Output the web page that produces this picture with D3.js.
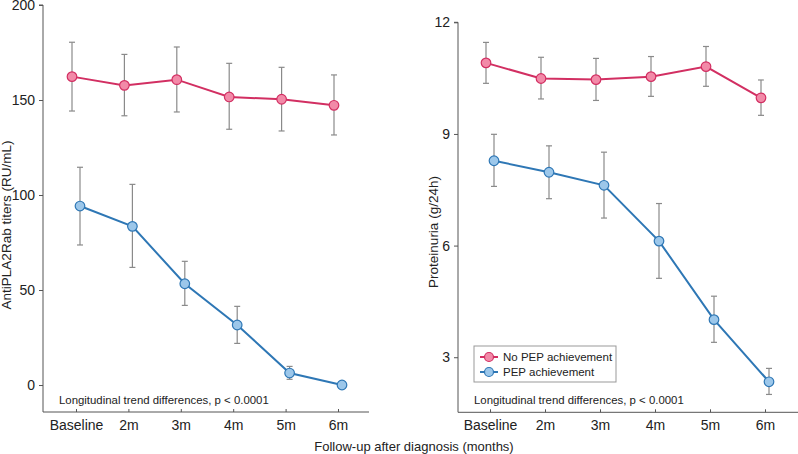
<!DOCTYPE html>
<html><head><meta charset="utf-8">
<script src="https://cdn.jsdelivr.net/npm/d3@7"></script>
<style>body{margin:0;background:#fff;} text{font-family:Arial,"Liberation Sans",sans-serif;}</style>
</head><body>
<svg id="chart" width="798" height="454"></svg>
<script>
const categories = ["Baseline","2m","3m","4m","5m","6m"];
const seriesNames = ["No PEP achievement","PEP achievement"];
// Left panel: AntiPLA2Rab titers
const titerNoPEP = [162.3,157.7,160.7,151.6,150.4,147.2];
const titerNoPEPHi = [180.4,174.0,177.9,169.3,167.2,163.2];
const titerNoPEPLo = [144.2,141.7,143.7,134.6,133.7,131.6];
const titerPEP = [94.2,83.5,53.3,31.6,6.3,0];
const titerPEPHi = [114.6,105.6,65.1,41.4,9.8,null];
const titerPEPLo = [73.7,61.9,41.9,21.9,3.0,null];
const titerTicks = [0,50,100,150,200];
// Right panel: Proteinuria
const protNoPEP = [10.91,10.49,10.46,10.54,10.81,9.97];
const protNoPEPHi = [11.46,11.06,11.03,11.08,11.35,10.45];
const protNoPEPLo = [10.36,9.94,9.90,10.01,10.28,9.50];
const protPEP = [8.28,7.97,7.62,6.12,4.01,2.34];
const protPEPHi = [8.99,8.68,8.51,7.13,4.64,2.70];
const protPEPLo = [7.59,7.26,6.74,5.12,3.40,2.00];
const protTicks = [3,6,9,12];

const colors = {line:["#d22f62","#2e77b5"], fill:["#f28aa8","#9cc7ea"]};
const svg = d3.select("#chart");

function panel(cfg){
  const g = svg.append("g");
  const x = d3.scalePoint().domain(categories).range([cfg.x0+cfg.pad, cfg.x1-cfg.padR]);
  const y = d3.scaleLinear().domain(cfg.domain).range([cfg.yb, cfg.yt]);
  const ya = g.append("g").attr("transform",`translate(${cfg.x0},0)`)
    .call(d3.axisLeft(y).tickValues(cfg.ticks).tickSize(4).tickPadding(4));
  ya.select(".domain").attr("d",`M-4,${cfg.yt}H0V${cfg.yb}`);
  const xa = g.append("g").attr("transform",`translate(0,${cfg.yb})`)
    .call(d3.axisBottom(x).tickSize(-3).tickPadding(6));
  xa.select(".domain").attr("d",`M${cfg.x0},0H${cfg.x1}`);
  [ya,xa].forEach(a=>{a.selectAll("path,line").attr("stroke","#555");
    a.selectAll("text").attr("font-size",14).attr("fill","#222").attr("font-family","Arial,'Liberation Sans',sans-serif");});
  xa.selectAll("text").attr("dy","0.85em");
  const sets = [[cfg.s0,cfg.s0Hi,cfg.s0Lo,-4],[cfg.s1,cfg.s1Hi,cfg.s1Lo,4]];
  sets.forEach((s,i)=>{
    const pts = categories.map((c,k)=>({x:x(c)+s[3], v:s[0][k], hi:s[1][k], lo:s[2][k]}));
    pts.filter(p=>p.hi!=null).forEach(p=>{
      g.append("line").attr("x1",p.x).attr("x2",p.x).attr("y1",y(p.hi)).attr("y2",y(p.lo)).attr("stroke","#8a8a8a").attr("stroke-width",1.2);
      [p.hi,p.lo].forEach(v=>g.append("line").attr("x1",p.x-3).attr("x2",p.x+3).attr("y1",y(v)).attr("y2",y(v)).attr("stroke","#8a8a8a").attr("stroke-width",1.2));
    });
    g.append("path").datum(pts).attr("fill","none").attr("stroke",colors.line[i]).attr("stroke-width",2)
      .attr("d",d3.line().x(p=>p.x).y(p=>y(p.v)));
    g.selectAll(null).data(pts).join("circle").attr("cx",p=>p.x).attr("cy",p=>y(p.v)).attr("r",4.8)
      .attr("fill",colors.fill[i]).attr("stroke",colors.line[i]).attr("stroke-width",1.2);
  });
  g.append("text").attr("x",cfg.noteX).attr("y",cfg.yb-8).attr("font-size",11.4).attr("fill","#222")
    .text("Longitudinal trend differences, p < 0.0001");
  g.append("text").attr("transform",`translate(${cfg.labX},${cfg.labY}) rotate(-90)`)
    .attr("text-anchor","middle").attr("font-size",13.5).attr("fill","#222").text(cfg.label);
  return {x,y,g};
}

panel({x0:43,x1:369,pad:33,padR:31,yt:5,yb:412,domain:[-14.2,200],ticks:titerTicks,
  s0:titerNoPEP,s0Hi:titerNoPEPHi,s0Lo:titerNoPEPLo,s1:titerPEP,s1Hi:titerPEPHi,s1Lo:titerPEPLo,
  noteX:59,labX:11,labY:225,label:"AntiPLA2Rab titers (RU/mL)"});
panel({x0:458,x1:798,pad:32,padR:33,yt:22.3,yb:412.3,domain:[1.52,12],ticks:protTicks,
  s0:protNoPEP,s0Hi:protNoPEPHi,s0Lo:protNoPEPLo,s1:protPEP,s1Hi:protPEPHi,s1Lo:protPEPLo,
  noteX:474,labX:438,labY:232,label:"Proteinuria (g/24h)"});

const lg = svg.append("g").attr("transform","translate(474,346)");
lg.append("rect").attr("width",142).attr("height",36).attr("fill","#fff").attr("stroke","#999").attr("stroke-width",1);
seriesNames.forEach((n,i)=>{
  const yy = 11+i*15;
  lg.append("line").attr("x1",6).attr("x2",24).attr("y1",yy).attr("y2",yy).attr("stroke",colors.line[i]).attr("stroke-width",2);
  lg.append("circle").attr("cx",15).attr("cy",yy).attr("r",4.5).attr("fill",colors.fill[i]).attr("stroke",colors.line[i]).attr("stroke-width",1.2);
  lg.append("text").attr("x",29).attr("y",yy+4.2).attr("font-size",11.5).attr("fill","#222").text(n);
});

svg.append("text").attr("x",414).attr("y",451).attr("text-anchor","middle").attr("font-size",13).attr("fill","#222")
  .text("Follow-up after diagnosis (months)");
</script>
</body></html>
